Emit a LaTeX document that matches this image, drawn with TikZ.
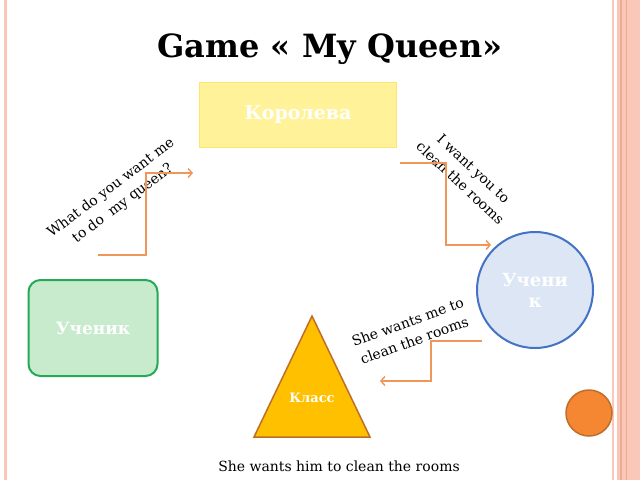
\documentclass[tikz,border=0pt]{standalone}
\usepackage{fontspec}
\setmainfont{DejaVu Serif}
\usetikzlibrary{arrows.meta,positioning}
\definecolor{frame}{RGB}{250,200,185}
\definecolor{framedark}{RGB}{240,170,150}
\definecolor{queenfill}{RGB}{255,242,153}
\definecolor{queenline}{RGB}{255,228,110}
\definecolor{pupilfill}{RGB}{220,230,245}
\definecolor{pupilline}{RGB}{68,114,196}
\definecolor{greenfill}{RGB}{200,235,205}
\definecolor{greenline}{RGB}{35,170,85}
\definecolor{classfill}{RGB}{255,192,0}
\definecolor{classline}{RGB}{190,110,40}
\definecolor{linkcol}{RGB}{240,150,90}
\definecolor{ballfill}{RGB}{245,135,50}
\tikzset{>={Straight Barb[length=4pt,width=9pt]},
         role/.style={font=\bfseries\fontsize{18}{21}\selectfont, text=white, align=center},
         link/.style={->, draw=linkcol, line width=1.4pt},
         speech/.style={font=\fontsize{14}{19.5}\selectfont, align=center, inner sep=0pt}}

\begin{document}
\begin{tikzpicture}[x=1pt,y=-1pt]
	\useasboundingbox[fill=white] (0,0) rectangle (640,480);

	% frame
	\fill[frame] (4,0) rectangle (7,480);
	\fill[frame] (612,0) rectangle (614,480);
	\fill[frame] (617,0) rectangle (640,480);
	\fill[framedark] (620,0) rectangle (622,480);
	\fill[framedark] (626,0) rectangle (627,480);

	\node[font=\bfseries\fontsize{32}{36}\selectfont] (title) at (330,49) {Game « My Queen»};

	\node[draw=queenline, fill=queenfill, line width=1.5pt, minimum width=197pt, minimum height=65pt, role, font=\bfseries\fontsize{19}{22}\selectfont] (queen) at (298,115) {Королева};
	\node[circle, draw=pupilline, fill=pupilfill, line width=2pt, minimum size=116pt, role] (pupil) at (535,290) {Учени\\к};
	\node[draw=greenline, fill=greenfill, line width=2pt, rounded corners=12pt, minimum width=129pt, minimum height=96pt, role, font=\bfseries\fontsize{17}{20}\selectfont] (child) at (93,328) {Ученик};
	\draw[draw=classline, fill=classfill, line width=1.5pt] (312,316) -- (370,437) -- (254,437) -- cycle;
	\node[role, font=\bfseries\fontsize{13}{15}\selectfont] (klass) at (312,398) {Класс};
	\node[circle, draw=classline, fill=ballfill, line width=1.5pt, minimum size=46pt] (ball) at (589,413) {};

	% speech
	\node[speech, rotate=37] (ask) at (117,196) {What do you want me\\to do\ \ my queen?};
	\node[speech, rotate=-43] (order) at (467,176) {I want you to\\clean the rooms};
	\node[speech, rotate=20] (report) at (411,331) {She wants me to\\clean the rooms};
	\node[speech] (tell) at (339,466) {She wants him to clean the rooms};

	% arrows
	\coordinate (askfrom) at (98,255);
	\coordinate (askto) at (193,173);
	\coordinate (orderfrom) at (400,163);
	\coordinate (orderto) at (491,245);
	\coordinate (reportfrom) at (482,341);
	\coordinate (reportto) at (380,381);
	\draw[link] (askfrom) -- ++(48,0) |- (askto);
	\draw[link] (orderfrom) -- ++(46,0) |- (orderto);
	\draw[link] (reportfrom) -- ++(-51,0) |- (reportto);
\end{tikzpicture}
\end{document}
